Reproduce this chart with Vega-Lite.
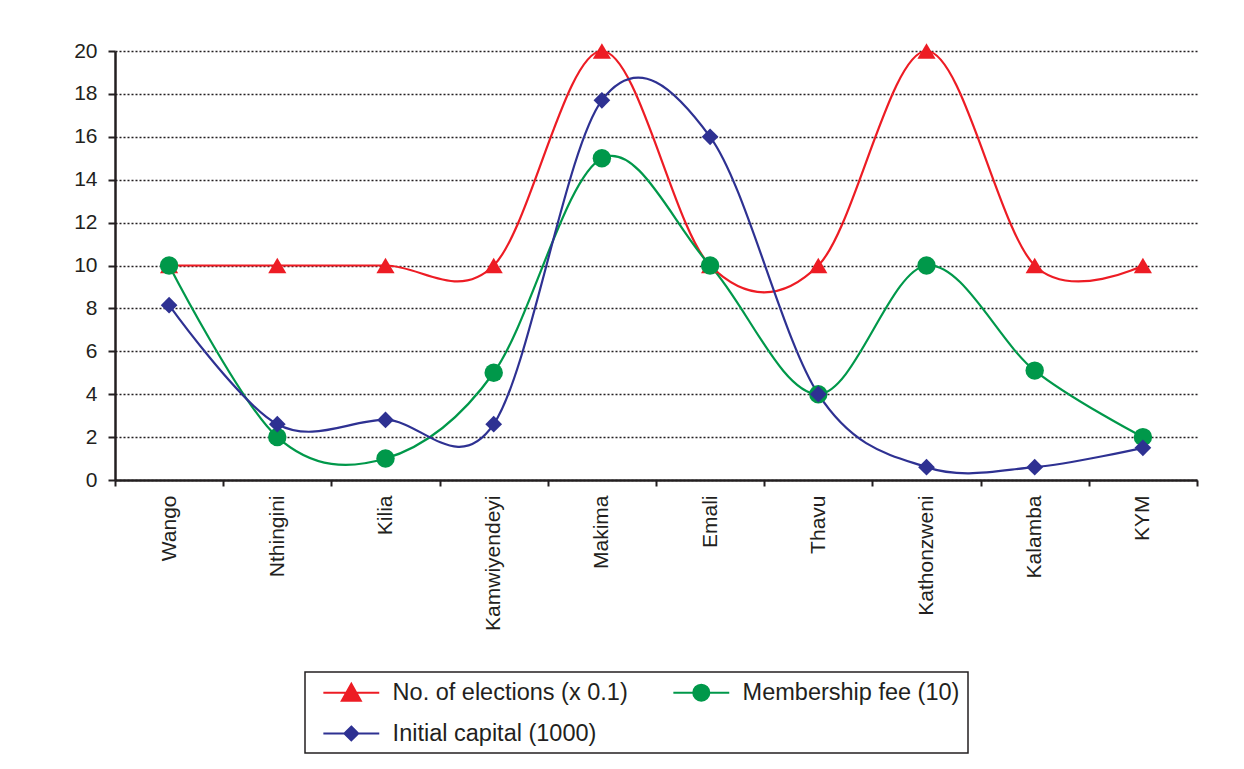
{
  "$schema": "https://vega.github.io/schema/vega-lite/v6.json",
  "width": 1082,
  "height": 429,
  "autosize": {"type": "none"},
  "padding": {"left": 115, "top": 51, "right": 47, "bottom": 289},
  "background": "white",
  "config": {
    "font": "Liberation Sans",
    "view": {"stroke": null},
    "legend": {"strokeWidth": 1.5}
  },
  "data": {
    "values": [
      {"site": "Wango", "series": "No. of elections (x 0.1)", "value": 10},
      {"site": "Nthingini", "series": "No. of elections (x 0.1)", "value": 10},
      {"site": "Kilia", "series": "No. of elections (x 0.1)", "value": 10},
      {"site": "Kamwiyendeyi", "series": "No. of elections (x 0.1)", "value": 10},
      {"site": "Makima", "series": "No. of elections (x 0.1)", "value": 20},
      {"site": "Emali", "series": "No. of elections (x 0.1)", "value": 10},
      {"site": "Thavu", "series": "No. of elections (x 0.1)", "value": 10},
      {"site": "Kathonzweni", "series": "No. of elections (x 0.1)", "value": 20},
      {"site": "Kalamba", "series": "No. of elections (x 0.1)", "value": 10},
      {"site": "KYM", "series": "No. of elections (x 0.1)", "value": 10},
      {"site": "Wango", "series": "Membership fee (10)", "value": 10},
      {"site": "Nthingini", "series": "Membership fee (10)", "value": 2},
      {"site": "Kilia", "series": "Membership fee (10)", "value": 1},
      {"site": "Kamwiyendeyi", "series": "Membership fee (10)", "value": 5},
      {"site": "Makima", "series": "Membership fee (10)", "value": 15},
      {"site": "Emali", "series": "Membership fee (10)", "value": 10},
      {"site": "Thavu", "series": "Membership fee (10)", "value": 4},
      {"site": "Kathonzweni", "series": "Membership fee (10)", "value": 10},
      {"site": "Kalamba", "series": "Membership fee (10)", "value": 5.1},
      {"site": "KYM", "series": "Membership fee (10)", "value": 2},
      {"site": "Wango", "series": "Initial capital (1000)", "value": 8.15},
      {"site": "Nthingini", "series": "Initial capital (1000)", "value": 2.6},
      {"site": "Kilia", "series": "Initial capital (1000)", "value": 2.8},
      {"site": "Kamwiyendeyi", "series": "Initial capital (1000)", "value": 2.6},
      {"site": "Makima", "series": "Initial capital (1000)", "value": 17.7},
      {"site": "Emali", "series": "Initial capital (1000)", "value": 16},
      {"site": "Thavu", "series": "Initial capital (1000)", "value": 4},
      {"site": "Kathonzweni", "series": "Initial capital (1000)", "value": 0.6},
      {"site": "Kalamba", "series": "Initial capital (1000)", "value": 0.6},
      {"site": "KYM", "series": "Initial capital (1000)", "value": 1.5}
    ]
  },
  "encoding": {
    "x": {
      "field": "site",
      "type": "nominal",
      "sort": null,
      "scale": {"paddingInner": 0, "paddingOuter": 0},
      "axis": {
        "title": null,
        "labelAngle": -90,
        "labelAlign": "right",
        "labelBaseline": "middle",
        "labelFontSize": 21,
        "labelColor": "#231f20",
        "labelPadding": 9,
        "tickBand": "extent",
        "tickSize": 6,
        "tickWidth": 2,
        "tickColor": "#231f20",
        "domainColor": "#231f20",
        "domainWidth": 2.5,
        "grid": false
      }
    },
    "y": {
      "field": "value",
      "type": "quantitative",
      "scale": {"domain": [0, 20], "nice": false},
      "axis": {
        "title": null,
        "values": [0, 2, 4, 6, 8, 10, 12, 14, 16, 18, 20],
        "labelFontSize": 21,
        "labelColor": "#231f20",
        "labelPadding": 11,
        "tickSize": 7,
        "tickWidth": 2,
        "tickColor": "#231f20",
        "domainColor": "#231f20",
        "domainWidth": 2.5,
        "grid": true,
        "gridColor": "#231f20",
        "gridWidth": 1.6,
        "gridDash": [2, 2]
      }
    },
    "color": {
      "field": "series",
      "type": "nominal",
      "sort": null,
      "scale": {
        "domain": ["No. of elections (x 0.1)", "Membership fee (10)", "Initial capital (1000)"],
        "range": ["#ed1c24", "#00984a", "#2e3192"]
      },
      "legend": {
        "title": null,
        "orient": "none",
        "legendX": 190,
        "legendY": 621,
        "direction": "horizontal",
        "columns": 2,
        "columnPadding": 35,
        "rowPadding": 16,
        "padding": 8,
        "strokeColor": "#231f20",
        "fillColor": "white",
        "labelFontSize": 23.5,
        "labelColor": "#231f20",
        "labelLimit": 400,
        "labelOffset": 28.8,
        "symbolType": "circle",
        "symbolSize": 500,
        "symbolOffset": 25.8,
        "symbolStrokeWidth": 2,
        "encode": {
          "symbols": {
            "update": {
              "shape": {"signal": "datum.value === 'No. of elections (x 0.1)' ? 'M-2.5,0H2.5M0,-0.8L0.85,0.72L-0.85,0.72Z' : datum.value === 'Membership fee (10)' ? 'M-2.5,0H-0.72A0.72,0.72,0,1,1,0.72,0H2.5M0.72,0A0.72,0.72,0,1,1,-0.72,0' : 'M-2.5,0H2.5M0,-0.62L0.62,0L0,0.62L-0.62,0Z'"},
              "fill": {"signal": "datum.value === 'No. of elections (x 0.1)' ? '#ed1c24' : datum.value === 'Membership fee (10)' ? '#00984a' : '#2e3192'"},
              "fillOpacity": {"value": 1}
            }
          }
        }
      }
    }
  },
  "layer": [
    {
      "mark": {"type": "line", "interpolate": "cardinal", "strokeWidth": 2.2}
    },
    {
      "transform": [{"filter": "datum.series === 'No. of elections (x 0.1)'"}],
      "mark": {"type": "point", "filled": true, "opacity": 1, "shape": "triangle-up", "size": 330}
    },
    {
      "transform": [{"filter": "datum.series === 'Membership fee (10)'"}],
      "mark": {"type": "point", "filled": true, "opacity": 1, "shape": "circle", "size": 340}
    },
    {
      "transform": [{"filter": "datum.series === 'Initial capital (1000)'"}],
      "mark": {"type": "point", "filled": true, "opacity": 1, "shape": "diamond", "size": 280}
    }
  ]
}
